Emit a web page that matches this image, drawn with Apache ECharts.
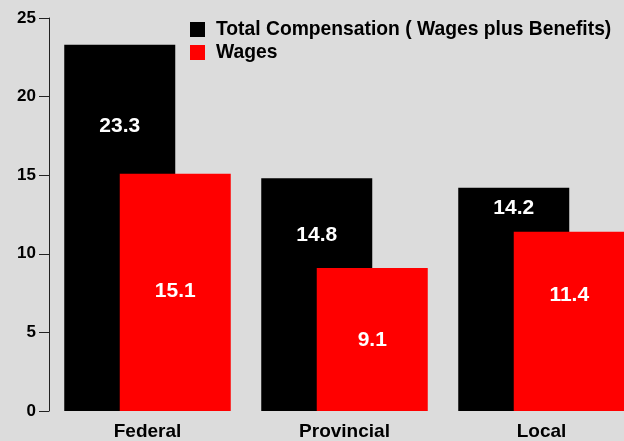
<!DOCTYPE html>
<html>
<head>
<meta charset="utf-8">
<script src="https://cdn.jsdelivr.net/npm/echarts@6/dist/echarts.min.js"></script>
<style>
  html, body { margin: 0; padding: 0; background: #dcdcdc; overflow: hidden; }
  /* chart is a little wider than the window: the last bar runs to the edge */
  #chart { width: 640px; height: 441px; }
</style>
</head>
<body>
<div id="chart"></div>
<script>
// 数据
const categories = ["Federal", "Provincial", "Local"];
const totalComp = [23.3, 14.8, 14.2];
const wages = [15.1, 9.1, 11.4];
// label offsets from bar top (px), as placed in the original
const totalLabelY = [81, 57, 20];
const wagesLabelY = [118, 72, 63];

const font = "'Liberation Sans', Arial, sans-serif";

function withLabels(values, offsets) {
  return values.map((v, i) => ({
    value: v,
    label: { position: ["50%", offsets[i]] }
  }));
}

const chart = echarts.init(document.getElementById("chart"));
chart.setOption({
  backgroundColor: "#dcdcdc",
  animation: false,
  textStyle: { fontFamily: font },
  grid: { left: 49, right: 0, top: 18, bottom: 30 },
  legend: {
    orient: "vertical",
    left: 185,
    top: 15,
    itemWidth: 15,
    itemHeight: 15,
    itemGap: 4,
    icon: "rect",
    textStyle: {
      color: "#000",
      fontWeight: "bold",
      fontSize: 19.3,
      fontFamily: font,
      padding: [0, 0, 0, 6]
    },
    data: ["Total Compensation ( Wages plus Benefits)", "Wages"]
  },
  xAxis: {
    type: "category",
    data: categories,
    axisLine: { show: false },
    axisTick: { show: false },
    axisLabel: {
      color: "#000",
      fontWeight: "bold",
      fontSize: 19,
      fontFamily: font,
      margin: 11
    }
  },
  yAxis: {
    type: "value",
    min: 0,
    max: 25,
    interval: 5,
    splitLine: { show: false },
    axisLine: { show: true, lineStyle: { color: "#222", width: 1 } },
    axisTick: { show: true, length: 10, lineStyle: { color: "#222" } },
    axisLabel: {
      color: "#000",
      fontWeight: "bold",
      fontSize: 17,
      fontFamily: font,
      margin: 13
    }
  },
  series: [
    {
      name: "Total Compensation ( Wages plus Benefits)",
      type: "bar",
      barWidth: 111,
      barGap: "-50%",
      itemStyle: { color: "#000" },
      label: {
        show: true,
        color: "#fff",
        fontWeight: "bold",
        fontSize: 21,
        fontFamily: font,
        align: "center",
        verticalAlign: "middle"
      },
      data: withLabels(totalComp, totalLabelY)
    },
    {
      name: "Wages",
      type: "bar",
      barWidth: 111,
      itemStyle: { color: "#ff0000" },
      label: {
        show: true,
        color: "#fff",
        fontWeight: "bold",
        fontSize: 21,
        fontFamily: font,
        align: "center",
        verticalAlign: "middle"
      },
      data: withLabels(wages, wagesLabelY)
    }
  ]
});
</script>
</body>
</html>
